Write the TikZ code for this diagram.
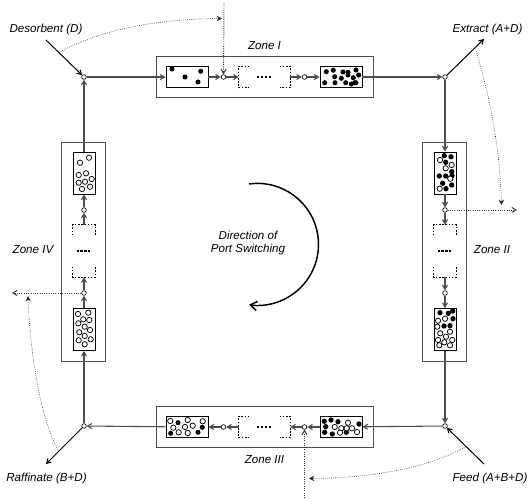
\documentclass[tikz,border=0pt]{standalone}
\usepackage{fontspec}
\setmainfont{Liberation Sans}
\usetikzlibrary{arrows.meta,calc}

\begin{document}
\begin{tikzpicture}[
  x=0.75pt,y=-0.75pt,
  font=\fontsize{8.7}{10}\selectfont\itshape,
  >={Straight Barb[length=3.2pt,width=3.8pt]},
  zone/.style={draw=black!70,line width=0.65pt,inner sep=0pt},
  wide/.style={zone,draw=black,line width=0.7pt,minimum width=31.5pt,minimum height=15.75pt},
  tall/.style={zone,draw=black,line width=0.7pt,minimum width=16.5pt,minimum height=31.5pt},
  gapwide/.style={inner sep=0pt,minimum width=38.25pt,minimum height=15.75pt},
  gaptall/.style={inner sep=0pt,minimum width=16.5pt,minimum height=39pt},
  joint/.style={circle,draw=black,fill=white,line width=0.5pt,inner sep=0pt,minimum size=3.5pt},
  label/.style={inner sep=0pt,align=center},
  flow/.style={->,draw=black!70,line width=0.8pt},
  port/.style={draw=black,line width=0.75pt},
  tap/.style={->,draw=black!80,line width=0.7pt,densely dotted},
  sweep/.style={-{Stealth[length=4pt,width=4pt]},draw=black!85,line width=0.45pt,densely dotted},
  gapline/.style={draw=black,line width=0.5pt,dash pattern=on 1.2pt off 1.2pt},
  rowdots/.style={draw=black,line width=1.7pt,dash pattern=on 1.7pt off 1.2pt},
  solid dot/.style={fill=black},
  open dot/.style={draw=black,fill=white,line width=0.55pt}
]
\useasboundingbox (0,0) rectangle (528,499);

% zone frames
\node[zone,minimum width=162.75pt,minimum height=30.75pt] (zoneI) at (264.5,76.5) {};
\node[zone,minimum width=33pt,minimum height=164.25pt] (zoneII) at (444,251.5) {};
\node[zone,minimum width=162.75pt,minimum height=30.75pt] (zoneIII) at (264.5,426.5) {};
\node[zone,minimum width=33pt,minimum height=164.25pt] (zoneIV) at (83.5,251.5) {};

% columns and switching nodes
\node[wide] (colIa) at (187,77) {};
\node[wide] (colIb) at (341,77) {};
\node[tall] (colIIa) at (445,173) {};
\node[tall] (colIIb) at (445,329.5) {};
\node[wide] (colIIIa) at (341,427) {};
\node[wide] (colIIIb) at (187,427) {};
\node[tall] (colIVa) at (84,329.5) {};
\node[tall] (colIVb) at (84,173) {};

\node[gapwide] (gapI) at (264.5,77) {};
\node[gaptall] (gapII) at (445,251) {};
\node[gapwide] (gapIII) at (264.5,427) {};
\node[gaptall] (gapIV) at (84,251) {};

\node[joint] (jTL) at (84,77) {};
\node[joint] (jTR) at (445,77) {};
\node[joint] (jBR) at (445,426) {};
\node[joint] (jBL) at (84,426) {};
\node[joint] (pIa) at (223.5,77) {};
\node[joint] (pIb) at (304.5,77) {};
\node[joint] (pIIa) at (445,210) {};
\node[joint] (pIIb) at (445,293) {};
\node[joint] (pIIIa) at (304.5,427) {};
\node[joint] (pIIIb) at (223.5,427) {};
\node[joint] (pIVa) at (84,293) {};
\node[joint] (pIVb) at (84,210) {};

% texts
\node[label] (desorbent) at (46,30) {Desorbent (D)};
\node[label] (extract) at (487.5,30) {Extract (A+D)};
\node[label] (feed) at (490,478) {Feed (A+B+D)};
\node[label] (raffinate) at (46.5,478) {Raffinate (B+D)};
\node[label] (nameI) at (264.5,46) {Zone I};
\node[label] (nameII) at (492,250) {Zone II};
\node[label] (nameIII) at (264.5,460) {Zone III};
\node[label] (nameIV) at (33,250) {Zone IV};
\node[label] (turn) at (248,243) {Direction of\\Port Switching};

% free ends
\coordinate (desIn) at (46,40);
\coordinate (extOut) at (484,39);
\coordinate (feedIn) at (484,464);
\coordinate (rafOut) at (46,464);
\coordinate (tapIa) at (224,3);
\coordinate (tapIIa) at (517,210);
\coordinate (tapIIIa) at (304.5,498);
\coordinate (tapIVa) at (12,293);
\coordinate (turnFrom) at (249,184);

% gaps in the rows of columns
\foreach \g in {gapI,gapIII}{
  \draw[gapline] ([xshift=8pt]\g.north west) -- (\g.north west) -- (\g.south west) -- ([xshift=8pt]\g.south west);
  \draw[gapline] ([xshift=-8pt]\g.north east) -- (\g.north east) -- (\g.south east) -- ([xshift=-8pt]\g.south east);
  \draw[rowdots] ([xshift=-5.6pt]\g.center) -- ([xshift=5.6pt]\g.center);
}
\foreach \g in {gapII,gapIV}{
  \draw[gapline] ([yshift=-8pt]\g.north west) -- (\g.north west) -- (\g.north east) -- ([yshift=-8pt]\g.north east);
  \draw[gapline] ([yshift=8pt]\g.south west) -- (\g.south west) -- (\g.south east) -- ([yshift=8pt]\g.south east);
  \draw[rowdots] ([xshift=-5.6pt]\g.center) -- ([xshift=5.6pt]\g.center);
}

% main loop
\draw[flow] (jTL) -- (colIa);
\draw[flow] (colIa) -- (pIa);
\draw[flow] (pIa) -- (gapI);
\draw[flow] (gapI) -- (pIb);
\draw[flow] (pIb) -- (colIb);
\draw[flow] (colIb) -- (jTR);
\draw[flow] (jTR) -- (colIIa);
\draw[flow] (colIIa) -- (pIIa);
\draw[flow] (pIIa) -- (gapII);
\draw[flow] (gapII) -- (pIIb);
\draw[flow] (pIIb) -- (colIIb);
\draw[flow] (colIIb) -- (jBR);
\draw[flow] (jBR) -- (colIIIa);
\draw[flow] (colIIIa) -- (pIIIa);
\draw[flow] (pIIIa) -- (gapIII);
\draw[flow] (gapIII) -- (pIIIb);
\draw[flow] (pIIIb) -- (colIIIb);
\draw[flow] (colIIIb) -- (jBL);
\draw[flow] (jBL) -- (colIVa);
\draw[flow] (colIVa) -- (pIVa);
\draw[flow] (pIVa) -- (gapIV);
\draw[flow] (gapIV) -- (pIVb);
\draw[flow] (pIVb) -- (colIVb);
\draw[flow] (colIVb) -- (jTL);

% ports
\draw[port,->] (desIn) -- (jTL);
\draw[port,->] (jTR) -- (extOut);
\draw[port,->] (feedIn) -- (jBR);
\draw[port,->] (jBL) -- (rafOut);

% ports after switching
\draw[tap] (tapIa) -- (pIa);
\draw[tap] (pIIa) -- (tapIIa);
\draw[tap] (tapIIIa) -- (pIIIa);
\draw[tap] (pIVa) -- (tapIVa);

\draw[sweep] ($(desIn)!0.34!(jTL)$) .. controls (105,27) and (165,19) .. (222,18.5);
\draw[sweep] ($(jTR)!0.77!(extOut)$) .. controls (490,95) and (500,150) .. (501.5,205);
\draw[sweep] ($(feedIn)!0.46!(jBR)$) .. controls (425,470) and (365,478) .. (309,478.5);
\draw[sweep] ($(jBL)!0.66!(rafOut)$) .. controls (40,420) and (30,350) .. (28,296);

\draw[->,draw=black,line width=1.1pt,>={Straight Barb[length=5pt,width=7pt]}]
  (turnFrom) arc[start angle=-98,end angle=98,radius=61];

% bed contents
\foreach \px/\py in {172/69,200.7/71.3,185/77,198/82}
  \fill[solid dot] (\px,\py) circle (1.9pt);
\foreach \px/\py in {326.3/71.7,333.3/70.3,343/72,348/72.3,348/75,356/70,334.7/76.7,341.3/78.3,353.3/77.7,358.7/75,354.7/82.7,324.7/82.7,335/82.7,345.7/82.7,351.3/84,356/82.7}
  \fill[solid dot] (\px,\py) circle (1.9pt);

\foreach \px/\py in {444.3/155.7,451/156.7,445.7/162.3,451.7/171.7,439.3/176,445.7/176,452/175.7,442.7/183.3,451.7/185,446/188.7}
  \fill[solid dot] (\px,\py) circle (2pt);
\foreach \px/\py in {440/160,451.7/165,445.7/168.3,450.3/178.7,439.7/188.7}
  \draw[open dot] (\px,\py) circle (2pt);

\foreach \px/\py in {440/312.7,448.3/313.3,452.7/311,453/318.7,444/326,450/325.7}
  \fill[solid dot] (\px,\py) circle (2pt);
\foreach \px/\py in {438/320.7,445/318.7,437.3/326.7,440.3/333.3,450/331.7,446/336.7,438/340,452.3/340,444.3/342.3,439.3/345.3,450/345.3}
  \draw[open dot] (\px,\py) circle (2pt);

\foreach \px/\py in {324.3/421.3,331/420,338/421.7,325.7/426.7,324.7/432.3,332.3/434,346.3/432.3,359/424}
  \fill[solid dot] (\px,\py) circle (2pt);
\foreach \px/\py in {334.7/427,348/422.7,341.3/428.3,346.7/428.3,352/428.3,340/432.7,357/432}
  \draw[open dot] (\px,\py) circle (2pt);

\foreach \px/\py in {178/422.7,202.3/427.3,170.7/433.3,198/432.3}
  \fill[solid dot] (\px,\py) circle (1.9pt);
\foreach \px/\py in {170.3/421,187.7/420,202.7/421.3,173.3/427.7,185/427,192.7/425.7,178.7/432.3,187.7/433}
  \draw[open dot] (\px,\py) circle (2pt);

\foreach \px/\py in {78/314,88.3/312.7,83.3/319.3,89.3/320,78.3/323.3,84.7/326.7,90/330,79.3/332.3,84.7/336,90.7/339.3,78.7/340.3,84.7/344.3}
  \draw[open dot] (\px,\py) circle (2pt);
\foreach \px/\py in {89/157.7,80/162.7,78.7/175,86/173.3,91.7/179,78.7/182.7,85/181.7,90/186.7,82/189}
  \draw[open dot] (\px,\py) circle (2pt);
\end{tikzpicture}
\end{document}
